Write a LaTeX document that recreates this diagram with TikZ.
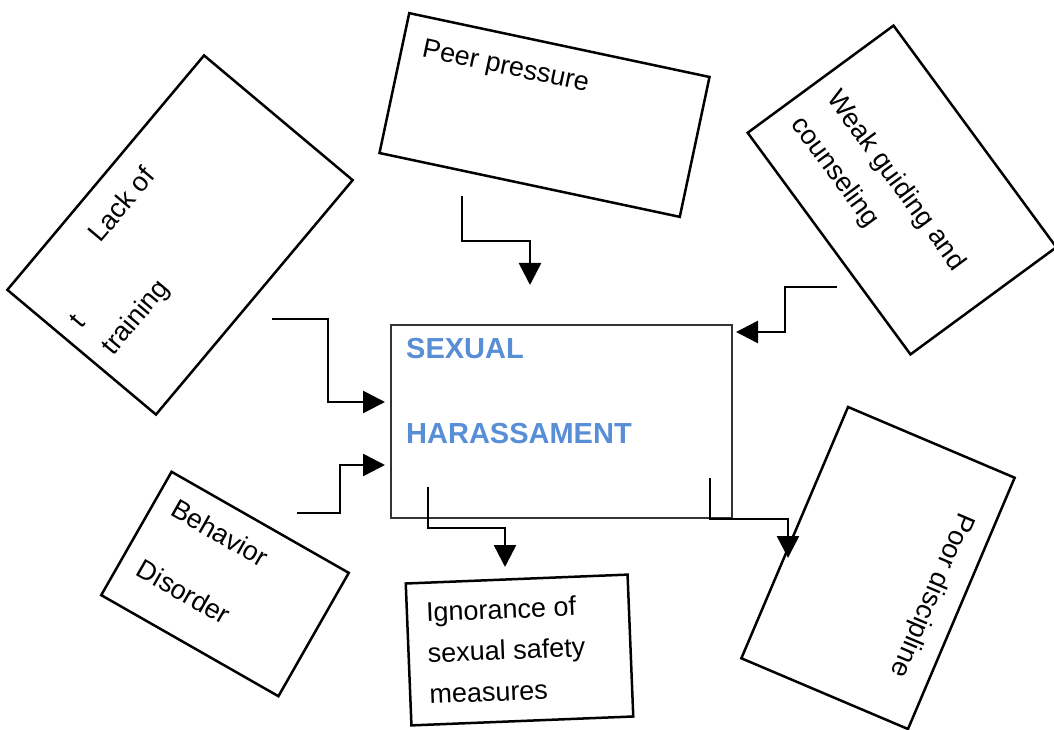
\documentclass[tikz,border=0pt]{standalone}
\usepackage{fontspec}
\setmainfont{Liberation Sans}
\usetikzlibrary{arrows.meta}
\definecolor{hsblue}{RGB}{88,142,213}

\begin{document}
\begin{tikzpicture}[x=1pt,y=1pt,
  cause/.style={draw,line width=2.5pt,inner sep=0pt},
  causetext/.style={anchor=west,inner sep=0pt,font=\fontsize{27pt}{32pt}\selectfont},
  hstext/.style={anchor=base west,inner sep=0pt,text=hsblue,font=\fontsize{29pt}{34pt}\selectfont\bfseries},
  flow/.style={line width=2.5pt,-{Triangle[length=22pt,width=22pt]}}]
\useasboundingbox (0,0) rectangle (1054,729);

\node[draw=black!80,line width=1.2pt,minimum width=341pt,minimum height=193pt,inner sep=0pt] (hs) at (561.5,307.5) {};
\node[hstext] (hs1) at (406,370) {SEXUAL};
\node[hstext] (hs2) at (406,286) {HARASSAMENT};

\begin{scope}[shift={(544.5,614)},rotate=-12,transform shape]
\node[cause,minimum width=307pt,minimum height=143pt] (peer) at (0,0) {};
\node[causetext] (peer1) at (-133,38) {Peer pressure};
\end{scope}

\begin{scope}[shift={(180,494)},rotate=50,transform shape]
\node[cause,minimum width=306pt,minimum height=194pt] (lack) at (0,0) {};
\node[causetext] (lack1) at (-58,65) {Lack of};
\node[causetext] (lack2) at (-136,23) {t};
\node[causetext] (lack3) at (-136,-20) {training};
\end{scope}

\begin{scope}[shift={(902,539)},rotate=-53.7,transform shape]
\node[cause,minimum width=275pt,minimum height=181pt] (weak) at (0,0) {};
\node[causetext] (weak1) at (-119,0) {Weak guiding and};
\node[causetext] (weak2) at (-119,-44) {counseling};
\end{scope}

\begin{scope}[shift={(878,161)},rotate=-113,transform shape]
\node[cause,minimum width=273pt,minimum height=181pt] (poor) at (0,0) {};
\node[causetext] (poor1) at (-84,60) {Poor discipline};
\end{scope}

\begin{scope}[shift={(225,145)},rotate=-29.7,transform shape]
\node[cause,minimum width=204pt,minimum height=142pt] (beh) at (0,0) {};
\node[causetext] (beh1) at (-83,42) {Behavior};
\node[causetext] (beh2) at (-83,-27) {Disorder};
\end{scope}

\begin{scope}[shift={(519.5,79)},rotate=2.3,transform shape]
\node[cause,minimum width=222pt,minimum height=142pt] (ign) at (0,0) {};
\node[causetext] (ign1) at (-92,39) {Ignorance of};
\node[causetext] (ign2) at (-92,-2) {sexual safety};
\node[causetext] (ign3) at (-92,-43) {measures};
\end{scope}

\coordinate (peerout) at (462,533);
\coordinate (peerin) at (530,444);
\coordinate (lackout) at (272,410);
\coordinate (lackin) at (385,327);
\coordinate (behout) at (297,216);
\coordinate (behin) at (385,264);
\coordinate (weakout) at (837,442);
\coordinate (weakin) at (736,397);
\coordinate (ignout) at (428,242);
\coordinate (ignin) at (505,162);
\coordinate (poorout) at (710,251);
\coordinate (poorin) at (788,171);

\draw[flow] (peerout) -- ++(0,-45) -| (peerin);
\draw[flow] (lackout) -- ++(56,0) |- (lackin);
\draw[flow] (behout) -- ++(43,0) |- (behin);
\draw[flow] (weakout) -- ++(-52,0) |- (weakin);
\draw[flow] (ignout) -- ++(0,-41) -| (ignin);
\draw[flow] (poorout) -- ++(0,-41) -| (poorin);
\end{tikzpicture}
\end{document}
